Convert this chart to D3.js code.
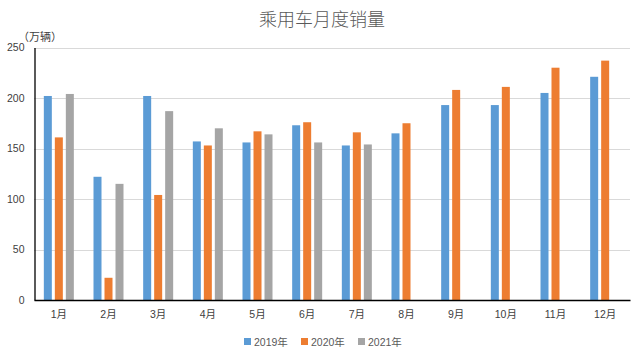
<!DOCTYPE html>
<html>
<head>
<meta charset="utf-8">
<script src="https://cdn.jsdelivr.net/npm/d3@7"></script>
<style>
html,body{margin:0;padding:0;background:#fff;}
svg{display:block;font-family:"Liberation Sans","Noto Sans CJK SC",sans-serif;}
</style>
</head>
<body>
<svg id="chart" width="641" height="357"></svg>
<script>
const months = ["1月","2月","3月","4月","5月","6月","7月","8月","9月","10月","11月","12月"];
const seriesNames = ["2019年","2020年","2021年"];
const sales2019 = [202,122,202,157,156,173,153,165,193,193,205,221];
const sales2020 = [161,22,104,153,167,176,166,175,208,211,230,237];
const sales2021 = [204,115,187,170,164,156,154,null,null,null,null,null];
const yTicks = [0,50,100,150,200,250];
const colors = ["#5B9BD5","#ED7D31","#A5A5A5"];
const titleText = "乘用车月度销量";
const unitText = "（万辆）";

const seriesValues = [sales2019, sales2020, sales2021];
const svg = d3.select("#chart");
const m = {left:34, right:630, top:47.5, bottom:300};

const x0 = d3.scaleBand().domain(months).range([m.left, m.right]).padding(0);
const x1 = d3.scaleBand().domain(seriesNames).range([0, 30]).paddingInner(3/11).paddingOuter(0);
const y = d3.scaleLinear().domain([0,250]).range([m.bottom, m.top]);

// gridlines
svg.append("g").selectAll("line").data(yTicks.filter(d=>d>0)).join("line")
  .attr("x1", m.left).attr("x2", m.right)
  .attr("y1", d=>Math.round(y(d))+0.5).attr("y2", d=>Math.round(y(d))+0.5)
  .attr("stroke","#d9d9d9").attr("stroke-width",1);

// bars
const data = [];
months.forEach((mo,i)=>{
  seriesNames.forEach((s,j)=>{
    const v = seriesValues[j][i];
    if (v != null) data.push({month:mo, series:s, value:v, color:colors[j]});
  });
});
svg.append("g").selectAll("rect").data(data).join("rect")
  .attr("x", d=>x0(d.month)+x0.bandwidth()/2-15+x1(d.series))
  .attr("width", x1.bandwidth())
  .attr("y", d=>y(d.value))
  .attr("height", d=>y(0)-y(d.value))
  .attr("fill", d=>d.color);

// y axis
const yAxis = d3.axisLeft(y).tickValues(yTicks).tickSize(0).tickPadding(10);
const gy = svg.append("g").attr("transform",`translate(${m.left+0.5},0)`).call(yAxis);
gy.select(".domain").attr("stroke","#000").attr("stroke-width",1.3);
gy.selectAll("text").attr("font-size","10.5px").attr("fill","#404040")
  .attr("font-family","Liberation Sans, sans-serif");

// x axis
const xAxis = d3.axisBottom(x0).tickSize(0).tickPadding(11);
const gx = svg.append("g").attr("transform",`translate(0,${m.bottom})`).call(xAxis);
gx.select(".domain").attr("stroke","#000").attr("stroke-width",1.5);
gx.selectAll("text").attr("font-size","10.5px").attr("fill","#404040")
  .attr("font-family","Liberation Sans, Noto Sans CJK SC, sans-serif");

// title
svg.append("text").attr("x",322).attr("y",26).attr("text-anchor","middle")
  .attr("font-size","18px").attr("fill","#595959")
  .attr("font-family","Noto Sans CJK SC, sans-serif").attr("font-weight",300)
  .text(titleText);

// unit
svg.append("text").attr("x",18).attr("y",41)
  .attr("font-size","11px").attr("fill","#404040")
  .attr("font-family","Noto Sans CJK SC, sans-serif")
  .text(unitText);

// legend
const legendX = [244, 301, 358];
const lg = svg.append("g").selectAll("g").data(seriesNames).join("g")
  .attr("transform",(d,i)=>`translate(${legendX[i]},338)`);
lg.append("rect").attr("width",7).attr("height",7).attr("fill",(d,i)=>colors[i]);
lg.append("text").attr("x",10).attr("y",7.5).attr("font-size","10.5px").attr("fill","#595959")
  .attr("font-family","Liberation Sans, Noto Sans CJK SC, sans-serif")
  .text(d=>d);
</script>
</body>
</html>
